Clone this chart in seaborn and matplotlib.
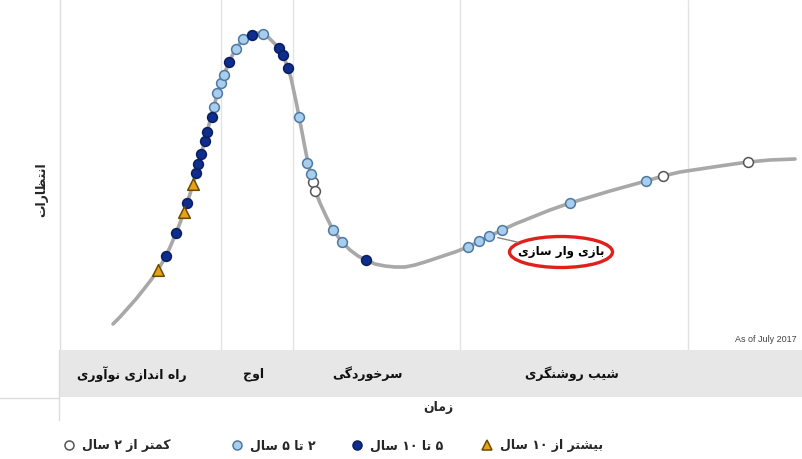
import re
import numpy as np
import pandas as pd
import matplotlib
matplotlib.use("Agg")
import matplotlib.pyplot as plt
from matplotlib.lines import Line2D
from matplotlib.patches import Ellipse
import seaborn as sns

# ---------------- data ----------------
# hype curve: time (x) and expectations (y)
curve_t = [53, 60, 68, 76, 84, 91, 98, 102, 106, 111, 116, 120, 124, 127, 130, 133, 136, 138,
           141, 145, 147, 151, 154, 157, 161, 164, 169, 173, 176, 180, 183, 188, 192, 197,
           203, 208, 213, 219, 223, 228, 231, 234, 237, 239, 242, 245, 248, 251, 255, 260,
           266, 273, 282, 290, 298, 306, 315, 325, 335, 345, 355, 365, 380, 395, 408, 420,
           430, 442, 455, 470, 490, 510, 530, 550, 568, 586, 603, 620, 640, 660, 688, 710, 735]
curve_e = [26, 33, 42, 51, 61, 70, 80, 87, 94, 105, 117, 127, 138, 147, 156, 166, 177, 186,
           196, 209, 218, 233, 243, 256, 267, 275, 288, 296, 301, 307, 311, 314, 316, 317,
           316, 313, 308, 302, 295, 282, 272, 258, 244, 233, 218, 202, 187, 175, 160, 147,
           134, 120, 108, 100, 94, 90, 86, 84, 83, 83, 85, 88, 93, 98, 103, 109,
           114, 120, 126, 132, 140, 147, 153, 159, 164, 169, 174, 178, 181, 184, 188, 190, 191]

# technologies on the curve: (time, expectation) per time-to-plateau group
t_over10 = [98, 124, 133]
e_over10 = [80, 138, 166]
t_5to10 = [106, 116, 127, 136, 138, 141, 145, 147, 152, 169, 192, 219, 223, 228, 306]
e_5to10 = [94, 117, 147, 177, 186, 196, 209, 218, 233, 288, 315, 302, 295, 282, 90]
t_2to5 = [154, 157, 161, 164, 176, 183, 203, 239, 247, 251, 273, 282, 408, 419, 429, 442, 510, 586]
e_2to5 = [243, 257, 267, 275, 301, 311, 316, 233, 187, 176, 120, 108, 103, 109, 114, 120, 147, 169]
t_under2 = [253, 255, 603, 688]
e_under2 = [168, 159, 174, 188]

group_names = ["کمتر از ۲ سال", "۲ تا ۵ سال", "۵ تا ۱۰ سال", "بیشتر از ۱۰ سال"]
phase_names = ["راه اندازی نوآوری", "اوج", "سرخوردگی", "شیب روشنگری"]
phase_label_t = [72, 194, 308, 512]
phase_bounds = [161, 233, 400, 628]
x_label = "زمان"
y_label = "انتظارات"
highlight_label = "بازی وار سازی"
highlight_point = (435, 113)
stamp = "As of July 2017"

# ---------------- Persian shaping (presentation forms + visual order) ----------------
FORMS = {
    '\u0627': ('\uFE8D', '\uFE8E', None, None),
    '\u0622': ('\uFE81', '\uFE82', None, None),
    '\u0628': ('\uFE8F', '\uFE90', '\uFE91', '\uFE92'),
    '\u062A': ('\uFE95', '\uFE96', '\uFE97', '\uFE98'),
    '\u062C': ('\uFE9D', '\uFE9E', '\uFE9F', '\uFEA0'),
    '\u062E': ('\uFEA5', '\uFEA6', '\uFEA7', '\uFEA8'),
    '\u062F': ('\uFEA9', '\uFEAA', None, None),
    '\u0631': ('\uFEAD', '\uFEAE', None, None),
    '\u0632': ('\uFEAF', '\uFEB0', None, None),
    '\u0633': ('\uFEB1', '\uFEB2', '\uFEB3', '\uFEB4'),
    '\u0634': ('\uFEB5', '\uFEB6', '\uFEB7', '\uFEB8'),
    '\u0638': ('\uFEC5', '\uFEC6', '\uFEC7', '\uFEC8'),
    '\u0644': ('\uFEDD', '\uFEDE', '\uFEDF', '\uFEE0'),
    '\u0645': ('\uFEE1', '\uFEE2', '\uFEE3', '\uFEE4'),
    '\u0646': ('\uFEE5', '\uFEE6', '\uFEE7', '\uFEE8'),
    '\u0647': ('\uFEE9', '\uFEEA', '\uFEEB', '\uFEEC'),
    '\u0648': ('\uFEED', '\uFEEE', None, None),
    '\u06CC': ('\uFBFC', '\uFBFD', '\uFBFE', '\uFBFF'),
    '\u06A9': ('\uFB8E', '\uFB8F', '\uFB90', '\uFB91'),
    '\u06AF': ('\uFB92', '\uFB93', '\uFB94', '\uFB95'),
}


def shape(s):
    out = []
    n = len(s)
    for i, ch in enumerate(s):
        if ch not in FORMS:
            out.append(ch)
            continue
        prev = s[i - 1] if i > 0 else None
        nxt = s[i + 1] if i < n - 1 else None
        jp = prev in FORMS and FORMS[prev][2] is not None
        jn = nxt in FORMS and FORMS[ch][2] is not None
        iso, fin, ini, med = FORMS[ch]
        if jp and jn:
            out.append(med)
        elif jp:
            out.append(fin)
        elif jn:
            out.append(ini)
        else:
            out.append(iso)
    return ''.join(out)


LTR = r'[\u06F0-\u06F90-9A-Za-z]'


def fa(s):
    sh = shape(s)
    tokens = re.findall(LTR + r'+|[^\u06F0-\u06F90-9A-Za-z]+', sh)
    res = []
    for t in reversed(tokens):
        if re.match(LTR, t):
            res.append(t)
        else:
            res.append(t[::-1])
    return ''.join(res)


# ---------------- figure ----------------
sns.set_theme(style="white")
plt.rcParams['font.family'] = ['DejaVu Sans']
W, H = 803, 459
fig = plt.figure(figsize=(W / 100, H / 100), dpi=100)

ax = fig.add_axes([60 / W, 1 - 350 / H, 743 / W, 350 / H])
ax.set_xlim(0, 743)
ax.set_ylim(0, 350)
for b in phase_bounds:
    ax.axvline(b, color='#e3e3e3', lw=1, zorder=0)

curve = pd.DataFrame({"time": curve_t, "expectation": curve_e})
sns.lineplot(data=curve, x="time", y="expectation", sort=False, estimator=None,
             color='#a8a8a8', lw=2.6, ax=ax, zorder=1)

styles = [
    (t_under2, e_under2, 'o', '#ffffff', '#555555', 50),
    (t_2to5, e_2to5, 'o', '#a9cdec', '#4c7aa3', 50),
    (t_5to10, e_5to10, 'o', '#0e2d8e', '#0a1f5c', 50),
    (t_over10, e_over10, '^', '#e8a21a', '#6b4a00', 70),
]
for name, (tt, ee, mk, fc, ec, s) in zip(group_names, styles):
    sns.scatterplot(x=tt, y=ee, marker=mk, color=fc, edgecolor=ec, linewidth=1.1,
                    s=s, ax=ax, zorder=3, legend=False)

ell = Ellipse((501, 98), 103, 31, fc='white', ec='#e0201b', lw=2.4, zorder=4)
ax.add_patch(ell)
ax.annotate(fa(highlight_label), xy=highlight_point, xytext=(501, 98),
            ha='center', va='center', fontsize=8.5, fontweight='bold', color='black',
            arrowprops=dict(arrowstyle='-', color='#888888', lw=1, shrinkA=0,
                            shrinkB=2, patchA=ell),
            zorder=5)

ax.text(737, 11, stamp, ha='right', va='center', fontsize=6.5, color='#444444',
        family=['Liberation Sans', 'DejaVu Sans'])

ax.set_xlabel("")
ax.set_ylabel("")
ax.set_xticks([])
ax.set_yticks([])
for sp in ['top', 'right', 'bottom']:
    ax.spines[sp].set_visible(False)
ax.spines['left'].set_color('#dcdcdc')
ax.spines['left'].set_linewidth(1)

# phase band
band = fig.add_axes([60 / W, 1 - 397 / H, 743 / W, 47 / H])
band.set_facecolor('#e7e7e7')
band.set_xlim(0, 743)
band.set_ylim(0, 1)
band.set_xticks([])
band.set_yticks([])
for sp in band.spines.values():
    sp.set_visible(False)
for name, t in zip(phase_names, phase_label_t):
    band.text(t, 0.49, fa(name), ha='center', va='center', fontsize=9,
              fontweight='bold', color='#111111')

# decorative frame lines at left
fig.add_artist(Line2D([59 / W, 59 / W], [1 - 350 / H, 1 - 420 / H],
                      transform=fig.transFigure, color='#dcdcdc', lw=1))
fig.add_artist(Line2D([0, 59 / W], [1 - 398 / H, 1 - 398 / H],
                      transform=fig.transFigure, color='#dcdcdc', lw=1))

fig.text(438 / W, 1 - 408 / H, fa(x_label), ha='center', va='center',
         fontsize=9, fontweight='bold')
fig.text(42 / W, 1 - 190 / H, fa(y_label), ha='center', va='center',
         rotation=90, fontsize=9, fontweight='bold')

# legend (one entry per group, laid out left to right)
leg_x = [69, 237, 357, 487]
for name, (tt, ee, mk, fc, ec, s), x in zip(group_names, styles, leg_x):
    h = Line2D([], [], marker=mk, ls='', markersize=6.5 if mk == 'o' else 7.5,
               mfc=fc, mec=ec, mew=1.1)
    lg = fig.legend([h], [fa(name)], loc='center left',
                    bbox_to_anchor=((x - 6) / W, 1 - 446 / H),
                    frameon=False, handlelength=1.0, handletextpad=0.55,
                    borderpad=0, borderaxespad=0,
                    prop=dict(size=9, weight='bold'))

fig.savefig("out.png", dpi=100)
